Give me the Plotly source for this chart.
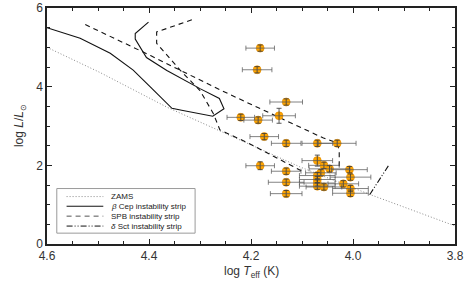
import plotly.graph_objects as go

# ---- data ----
star_logT = [4.182, 4.188, 4.131, 4.220, 4.186, 4.145, 4.174, 4.131, 4.070, 4.031,
             4.182, 4.131, 4.131, 4.131, 4.070, 4.057, 4.046, 4.007, 4.063, 4.070,
             4.070, 4.070, 4.070, 4.057, 4.019, 4.005, 4.005, 4.005]
star_logL = [4.98, 4.43, 3.61, 3.22, 3.15, 3.26, 2.73, 2.56, 2.56, 2.56,
             1.99, 1.85, 1.57, 1.28, 2.12, 2.00, 1.91, 1.89, 1.81, 1.74,
             1.64, 1.55, 1.47, 1.45, 1.53, 1.70, 1.41, 1.29]
star_errT = [0.028, 0.029, 0.032, 0.027, 0.028, 0.032, 0.028, 0.029, 0.030, 0.037,
             0.028, 0.029, 0.035, 0.031, 0.030, 0.030, 0.040, 0.035, 0.030, 0.035,
             0.035, 0.035, 0.035, 0.035, 0.030, 0.040, 0.035, 0.035]
star_errL = [0.08, 0.08, 0.08, 0.08, 0.08, 0.19, 0.08, 0.08, 0.08, 0.08,
             0.10, 0.08, 0.08, 0.08, 0.14, 0.08, 0.08, 0.08, 0.08, 0.08,
             0.08, 0.08, 0.08, 0.08, 0.08, 0.08, 0.08, 0.08]

zams_logT = [4.600, 4.496, 4.365, 4.235, 4.104, 3.967, 3.800]
zams_logL = [5.00, 4.36, 3.48, 2.72, 1.96, 1.26, 0.46]

bcep_logT = [4.600, 4.535, 4.476, 4.431, 4.398, 4.355, 4.336, 4.275, 4.253, 4.262,
             4.300, 4.365, 4.405, 4.421, 4.427, 4.427, 4.401]
bcep_logL = [5.50, 5.23, 4.85, 4.42, 4.00, 3.45, 3.40, 3.25, 3.44, 3.70,
             3.95, 4.41, 4.74, 5.08, 5.21, 5.35, 5.64]

spb_outer_logT = [4.525, 4.397, 4.261, 4.059, 4.031, 4.027, 4.027]
spb_outer_logL = [5.58, 4.79, 3.92, 2.70, 2.57, 2.39, 1.95]
spb_inner_logT = [4.316, 4.385, 4.385, 4.339, 4.300, 4.274, 4.261, 4.206, 4.098]
spb_inner_logL = [5.70, 5.39, 5.10, 4.42, 3.90, 3.32, 2.90, 2.57, 1.84]

dsct_logT = [3.967, 3.929]
dsct_logL = [1.26, 2.02]

x_ticks = [4.6, 4.4, 4.2, 4.0, 3.8]
x_ticktext = ["4.6", "4.4", "4.2", "4.0", "3.8"]
y_ticks = [0, 2, 4, 6]

legend_labels = ["ZAMS", "<i>β</i> Cep instability strip",
                 "SPB instability strip", "<i>δ</i> Sct instability strip"]

# ---- styles ----
FONT = "Liberation Sans, Arial"
ZAMS_DASH = "1px,2px"
SPB_DASH = "5px,4px"
DSCT_DASH = "6px,2px,1px,2px,1px,2px"
ZAMS_COL = "#8a8a8a"
LINE_COL = "#111111"

fig = go.Figure()
fig.add_trace(go.Scatter(x=zams_logT, y=zams_logL, mode="lines",
                         line=dict(color=ZAMS_COL, width=1, dash=ZAMS_DASH), showlegend=False))
fig.add_trace(go.Scatter(x=bcep_logT, y=bcep_logL, mode="lines",
                         line=dict(color=LINE_COL, width=1.1), showlegend=False))
fig.add_trace(go.Scatter(x=spb_outer_logT, y=spb_outer_logL, mode="lines",
                         line=dict(color=LINE_COL, width=1.1, dash=SPB_DASH), showlegend=False))
fig.add_trace(go.Scatter(x=spb_inner_logT, y=spb_inner_logL, mode="lines",
                         line=dict(color=LINE_COL, width=1.1, dash=SPB_DASH), showlegend=False))
fig.add_trace(go.Scatter(x=dsct_logT, y=dsct_logL, mode="lines",
                         line=dict(color=LINE_COL, width=1.1, dash=DSCT_DASH), showlegend=False))

# markers
fig.add_trace(go.Scatter(x=star_logT, y=star_logL, mode="markers",
                         marker=dict(size=8, color="#FFA500",
                                     line=dict(color="#E08A00", width=0.6)),
                         showlegend=False))
# error bars drawn on top of markers
fig.add_trace(go.Scatter(x=star_logT, y=star_logL, mode="markers",
                         marker=dict(size=1, color="rgba(0,0,0,0)"),
                         error_x=dict(type="data", array=star_errT, color="rgba(90,90,90,0.75)",
                                      thickness=1, width=2.5),
                         error_y=dict(type="data", array=star_errL, color="rgba(60,60,60,0.85)",
                                      thickness=1, width=2.5),
                         showlegend=False, hoverinfo="skip"))

# ---- manual compact legend ----
box = dict(x0=0.024, x1=0.363, y0=0.046, y1=0.235)
fig.add_shape(type="rect", xref="x domain", yref="y domain", **box,
              line=dict(color="#9a9a9a", width=1), fillcolor="white", layer="above")
entry_y = [0.201, 0.160, 0.118, 0.076]
entry_styles = [dict(color=ZAMS_COL, width=1, dash=ZAMS_DASH),
                dict(color=LINE_COL, width=1),
                dict(color="#555555", width=1, dash=SPB_DASH),
                dict(color=LINE_COL, width=1, dash=DSCT_DASH)]
for yy, lab, st in zip(entry_y, legend_labels, entry_styles):
    fig.add_shape(type="line", xref="x domain", yref="y domain",
                  x0=0.048, x1=0.138, y0=yy, y1=yy, line=st, layer="above")
    fig.add_annotation(xref="x domain", yref="y domain", x=0.152, y=yy, text=lab,
                       showarrow=False, xanchor="left", yanchor="middle",
                       font=dict(size=8, color="#222222", family=FONT))

# axis titles as annotations (exact placement)
fig.add_annotation(xref="x domain", yref="paper", x=0.5, y=-0.119, yanchor="middle",
                   text="log <i>T</i><sub>eff</sub> (K)", showarrow=False,
                   font=dict(size=12, color="#333333", family=FONT))
fig.add_annotation(xref="paper", yref="y domain", x=-0.066, y=0.5, xanchor="center",
                   text="log <i>L</i>/<i>L</i><sub>⊙</sub>", showarrow=False, textangle=-90,
                   font=dict(size=12, color="#333333", family=FONT))

axis_common = dict(showline=True, linecolor="#222222", linewidth=1.5, mirror="ticks",
                   ticks="inside", ticklen=5, tickwidth=1, tickcolor="#222222",
                   showgrid=False, zeroline=False, automargin=False,
                   tickfont=dict(size=12, color="#333333", family=FONT))

fig.update_xaxes(range=[4.6, 3.8], tickvals=x_ticks, ticktext=x_ticktext,
                 minor=dict(dtick=0.05, ticks="inside", ticklen=3, tickcolor="#222222"),
                 **axis_common)
fig.update_yaxes(range=[0, 6], tickvals=y_ticks,
                 minor=dict(dtick=0.5, ticks="inside", ticklen=3, tickcolor="#222222"),
                 **axis_common)

fig.update_layout(width=468, height=281, margin=dict(l=47, r=13, t=8, b=37, autoexpand=False),
                  plot_bgcolor="white", paper_bgcolor="white", showlegend=False)

fig.write_html("out.html", config={"displayModeBar": False},
               post_script="document.body.style.margin='0';")
